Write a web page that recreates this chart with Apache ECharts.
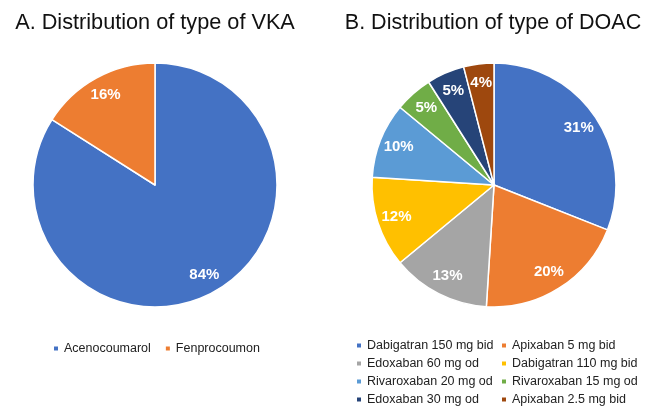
<!DOCTYPE html>
<html>
<head>
<meta charset="utf-8">
<script src="https://cdn.jsdelivr.net/npm/echarts@6/dist/echarts.min.js"></script>
<style>
html,body{margin:0;padding:0;background:#fff;}
#c1{width:658px;height:414px;}
</style>
</head>
<body>
<div id="c1"></div>
<script>
// data (percentages)
var vkaNames = ['Acenocoumarol', 'Fenprocoumon'];
var vkaValues = [84, 16];
var doacNames = ['Dabigatran 150 mg bid', 'Apixaban 5 mg bid', 'Edoxaban 60 mg od', 'Dabigatran 110 mg bid',
	'Rivaroxaban 20 mg od', 'Rivaroxaban 15 mg od', 'Edoxaban 30 mg od', 'Apixaban 2.5 mg bid'];
var doacValues = [31, 20, 13, 12, 10, 5, 5, 4];

var palette = ['#4472C4', '#ED7D31', '#A5A5A5', '#FFC000', '#5B9BD5', '#70AD47', '#264478', '#9E480E'];
var font = '"Liberation Sans", Arial, sans-serif';

function toData(names, values) {
	var out = [];
	for (var i = 0; i < names.length; i++) {
		out.push({ name: names[i], value: values[i], itemStyle: { color: palette[i] } });
	}
	return out;
}

function mainPie(cx, names, values) {
	return {
		type: 'pie',
		center: [cx, 185],
		radius: [0, 122],
		startAngle: 90,
		clockwise: true,
		avoidLabelOverlap: false,
		label: { show: false },
		labelLine: { show: false },
		emphasis: { disabled: true },
		itemStyle: { borderColor: '#fff', borderWidth: 1.5 },
		data: toData(names, values)
	};
}

// transparent ring used only to place labels near the rim
function labelPie(cx, names, values) {
	var d = [];
	for (var i = 0; i < names.length; i++) {
		d.push({ name: names[i], value: values[i] });
	}
	return {
		type: 'pie',
		center: [cx, 185],
		radius: [77, 122],
		startAngle: 90,
		clockwise: true,
		silent: true,
		avoidLabelOverlap: false,
		itemStyle: { color: 'rgba(0,0,0,0)', borderWidth: 0 },
		label: {
			show: true,
			position: 'inside',
			formatter: '{c}%',
			color: '#fff',
			fontWeight: 'bold',
			fontSize: 15,
			fontFamily: font
		},
		labelLine: { show: false },
		emphasis: { disabled: true },
		data: d
	};
}

var legendText = { fontSize: 12.5, color: '#222', fontFamily: font };

var myChart = echarts.init(document.getElementById('c1'));
var option = {
	backgroundColor: '#fff',
	animation: false,
	title: [
		{ text: 'A. Distribution of type of VKA', left: 150, top: 7, textAlign: 'center',
			textStyle: { fontSize: 21.7, fontWeight: 'normal', color: '#111', fontFamily: font } },
		{ text: 'B. Distribution of type of DOAC', left: 488, top: 7, textAlign: 'center',
			textStyle: { fontSize: 21.5, fontWeight: 'normal', color: '#111', fontFamily: font } }
	],
	legend: [
		{ data: vkaNames, left: 47, top: 337, orient: 'horizontal', icon: 'rect',
			itemWidth: 6, itemHeight: 6, itemGap: 13, textStyle: legendText, selectedMode: false },
		{ data: [doacNames[0], doacNames[2], doacNames[4], doacNames[6]], left: 355, top: 339,
			padding: 0, orient: 'vertical', icon: 'rect', itemWidth: 6, itemHeight: 6, itemGap: 5,
			textStyle: legendText, selectedMode: false },
		{ data: [doacNames[1], doacNames[3], doacNames[5], doacNames[7]], left: 500, top: 339,
			padding: 0, orient: 'vertical', icon: 'rect', itemWidth: 6, itemHeight: 6, itemGap: 5,
			textStyle: legendText, selectedMode: false }
	],
	series: [
		mainPie(155, vkaNames, vkaValues),
		mainPie(494, doacNames, doacValues),
		labelPie(155, vkaNames, vkaValues),
		labelPie(494, doacNames, doacValues)
	]
};
myChart.setOption(option);
</script>
</body>
</html>
